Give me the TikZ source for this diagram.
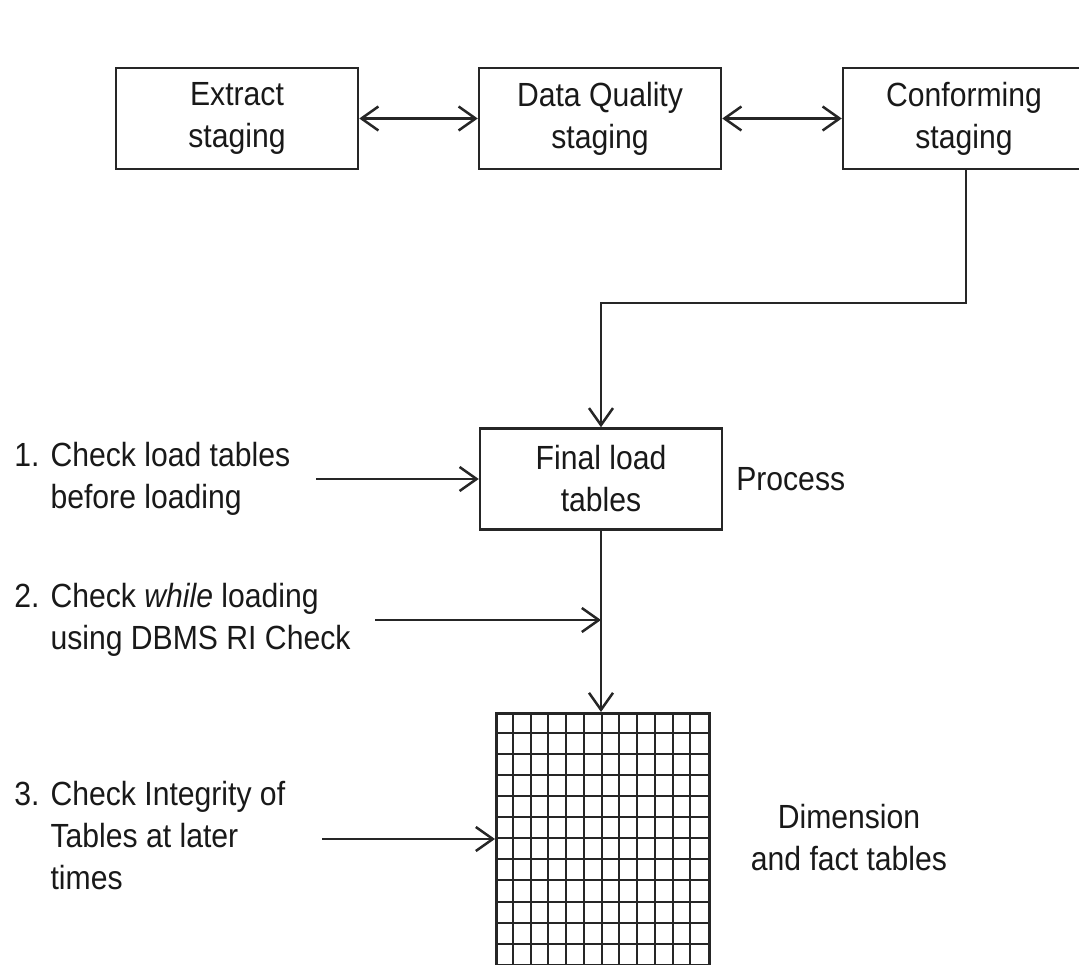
\documentclass[tikz,border=0pt]{standalone}
\usepackage{fontspec}
\setmainfont[FakeStretch=0.9]{Liberation Sans}
\usetikzlibrary{positioning, arrows.meta, calc}

\begin{document}
\begin{tikzpicture}[x=1pt, y=-1pt, line width=2.5pt, draw=black!85,
    >={Straight Barb[length=17pt, width=24pt]},
    every node/.style={font=\fontsize{33.5}{42}\selectfont, text=black!90},
    stagebox/.style={draw, minimum width=242pt, minimum height=101pt, align=center, inner sep=0pt},
    checknote/.style={anchor=west, inner sep=0pt}]
    \clip (0,0) rectangle (1079,965);
    \useasboundingbox (0,0) rectangle (1079,965);

    % ---------------- STAGING AREAS ----------------
    \node[stagebox] (extract) at (237,118.5) {Extract\\staging};
    \node[stagebox] (quality) at (600,118.5) {Data Quality\\staging};
    \node[stagebox] (conform) at (964,118.5) {Conforming\\staging};

    \draw[<->] (extract) -- (quality);
    \draw[<->] (quality) -- (conform);

    % ---------------- FINAL LOAD ----------------
    \node[stagebox] (final) at (601,479) {Final load\\tables};
    \node[anchor=west, inner sep=0pt] (process) at (735,479) {Process};

    \coordinate (bend) at (966,303);
    \draw[->] (conform.south -| bend) -- (bend) -| (final.north);

    % ---------------- DIMENSION AND FACT TABLES ----------------
    \node[draw, minimum width=213pt, minimum height=270pt, anchor=north west, inner sep=0pt] (dim) at (495,712) {};
    \foreach \i in {1,...,11} \draw[line width=2pt] (495+\i*17.75,712) -- (495+\i*17.75,985);
    \foreach \j in {1,...,12} \draw[line width=2pt] (495,712+\j*21.06) -- (708,712+\j*21.06);
    \node[align=center] (dimlabel) at (849,838) {Dimension\\and fact tables};

    \draw[->] (final.south) -- (dim.north -| final.south);

    % ---------------- CHECKS ----------------
    \node[checknote] (check1) at (13,479) {\begin{tabular}{@{}l@{ }l@{}}1. & Check load tables\\ & before loading\end{tabular}};
    \node[checknote] (check2) at (13,620) {\begin{tabular}{@{}l@{ }l@{}}2. & Check \textit{while} loading\\ & using DBMS RI Check\end{tabular}};
    \node[checknote] (check3) at (13,839) {\begin{tabular}{@{}l@{ }l@{}}3. & Check Integrity of\\ & Tables at later\\ & times\end{tabular}};

    \coordinate (s1) at (316,479);
    \coordinate (s2) at (375,620);
    \coordinate (s3) at (322,839);
    \draw[->] (s1) -- (final.west);
    \draw[->] (s2) -- (s2 -| final.south);
    \draw[->] (s3) -- (s3 -| dim.west);
\end{tikzpicture}
\end{document}
